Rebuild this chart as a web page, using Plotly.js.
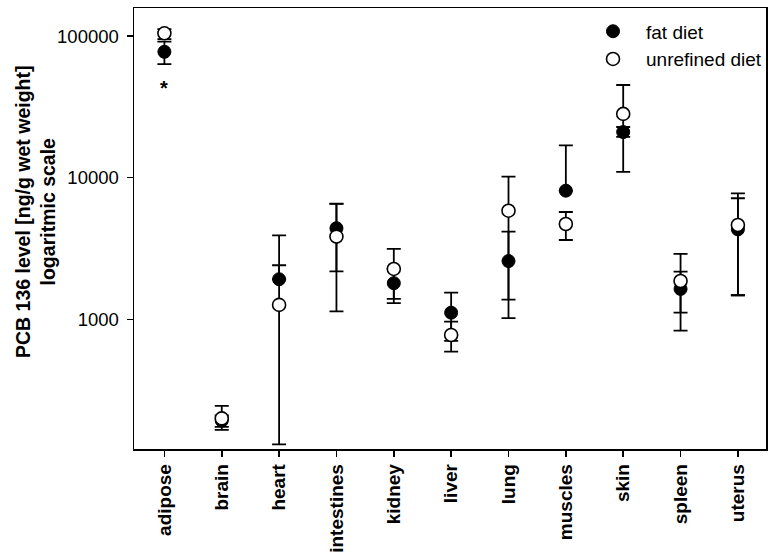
<!DOCTYPE html>
<html>
<head>
<meta charset="utf-8">
<script src="https://cdn.plot.ly/plotly-3.0.1.min.js"></script>
<style>html,body{margin:0;padding:0;background:#fff;}#chart{width:775px;height:555px;}</style>
</head>
<body>
<div id="chart"></div>
<script>
// Tissues
const tissues = ["adipose","brain","heart","intestines","kidney","liver","lung","muscles","skin","spleen","uterus"];

// fat diet: mean, upper error, lower error (ng/g wet weight)
const fatMean  = [77400, 193, 1920, 4400, 1800, 1115, 2580, 8100, 21000, 1640, 4320];
const fatPlus  = [14000,  17, 2000, 2170,  480,  430, 1580, 8830,  1800,  530, 2840];
const fatMinus = [14000,  27,    0, 2220,  500,  410, 1560,    0,  1600,  525, 2840];

// unrefined diet
const unrMean  = [104500, 200, 1265, 3840, 2270, 776, 5850, 4710, 28200, 1866, 4640];
const unrPlus  = [  7500,  45, 1145, 2700,  870, 187, 4320, 1015, 16900, 1030, 3120];
const unrMinus = [  9300,  26, 1134, 2700,  875, 184, 4470, 1077, 17200, 1034, 3160];

// y tick labels
const yTickVals = [1000, 10000, 100000];
const yTickText = ["1000", "10000", "100000"];

const FONT = "Liberation Sans, Arial, sans-serif";
const xIdx = tissues.map((_, i) => i);

const errStyle = {type: "data", symmetric: false, color: "#000", thickness: 1.8, width: 7};

const traces = [
  {
    type: "scatter", mode: "markers", name: "fat diet",
    x: xIdx, y: fatMean,
    marker: {symbol: "circle", size: 13, color: "#000", line: {color: "#000", width: 1}},
    error_y: Object.assign({}, errStyle, {array: fatPlus, arrayminus: fatMinus})
  },
  {
    type: "scatter", mode: "markers", name: "unrefined diet",
    x: xIdx, y: unrMean,
    marker: {symbol: "circle", size: 13, color: "#fff", line: {color: "#000", width: 1.6}},
    error_y: Object.assign({}, errStyle, {array: unrPlus, arrayminus: unrMinus})
  }
];

const layout = {
  width: 775, height: 555,
  margin: {l: 134, r: 9, t: 8, b: 106},
  paper_bgcolor: "#fff", plot_bgcolor: "#fff",
  font: {family: FONT, color: "#000"},
  showlegend: true,
  legend: {
    x: 0.7057, xanchor: "left", y: 0.99, yanchor: "top",
    bgcolor: "rgba(0,0,0,0)", borderwidth: 0,
    font: {family: FONT, size: 19, color: "#000"},
    itemwidth: 56, tracegroupgap: 0
  },
  xaxis: {
    type: "linear", range: [-0.53, 10.49],
    tickmode: "array", tickvals: xIdx, ticktext: tissues,
    tickangle: -90,
    tickfont: {family: FONT, size: 19, color: "#000", weight: "bold"},
    ticks: "outside", ticklen: 6, tickwidth: 1.5, tickcolor: "#000",
    showline: true, linecolor: "#000", linewidth: 1.5, mirror: true,
    showgrid: false, zeroline: false, fixedrange: true
  },
  yaxis: {
    type: "log", range: [Math.log10(121.6), Math.log10(157700)],
    tickmode: "array", tickvals: yTickVals, ticktext: yTickText,
    tickfont: {family: FONT, size: 18.5, color: "#000"},
    ticks: "outside", ticklen: 6, tickwidth: 1.5, tickcolor: "#000",
    ticklabelstandoff: 4,
    showline: true, linecolor: "#000", linewidth: 1.5, mirror: true,
    showgrid: false, zeroline: false, fixedrange: true
  },
  annotations: [
    {
      text: "<b>PCB 136 level [ng/g wet weight]</b><br><b>logaritmic scale</b>",
      xref: "paper", yref: "paper", x: -0.1566, y: 0.5374,
      xanchor: "center", yanchor: "middle", textangle: -90, showarrow: false,
      font: {family: FONT, size: 19.5, color: "#000"}
    },
    {
      text: "<b>*</b>",
      xref: "x", yref: "y", x: 0, y: Math.log10(43000),
      xanchor: "center", yanchor: "middle", showarrow: false,
      font: {family: FONT, size: 20, color: "#000"}
    }
  ]
};

Plotly.newPlot("chart", traces, layout, {displayModeBar: false, staticPlot: true});
</script>
</body>
</html>
